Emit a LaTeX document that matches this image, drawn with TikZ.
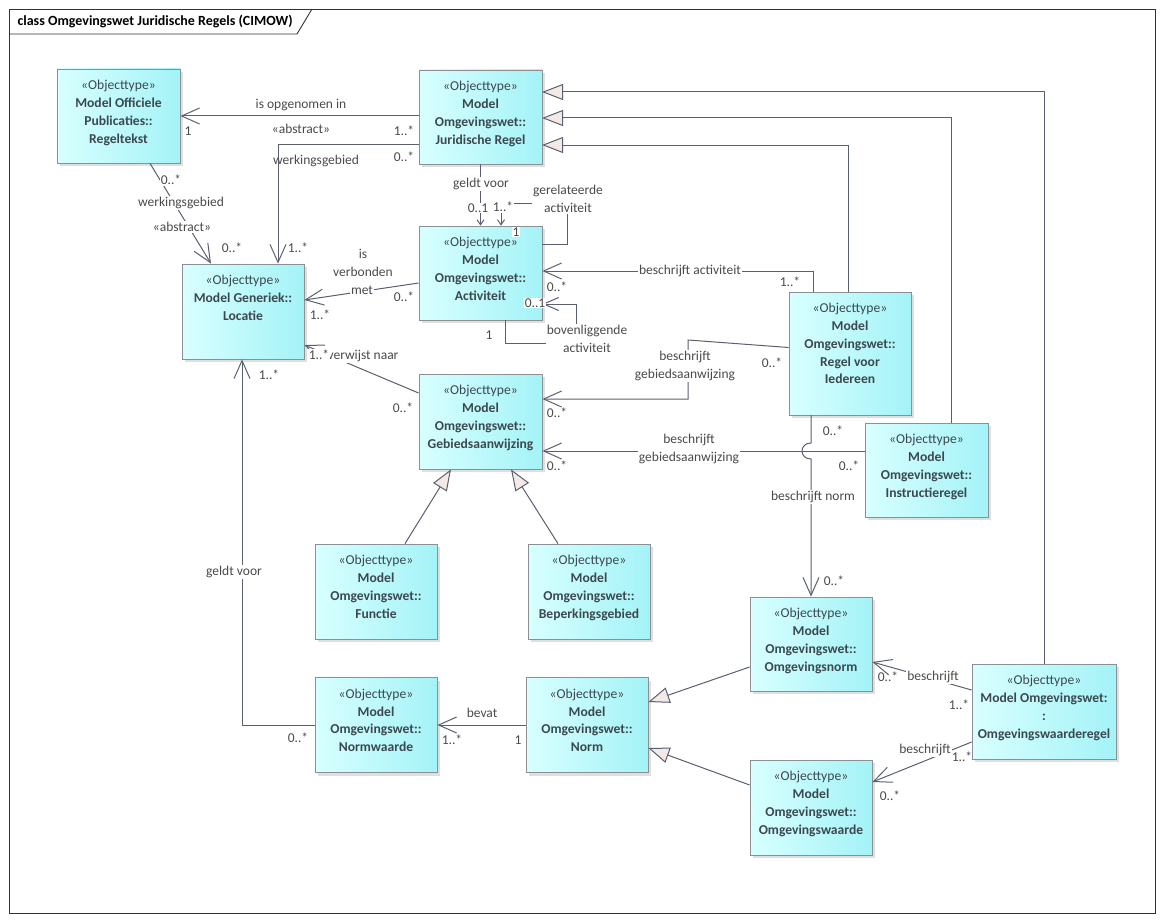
\documentclass[tikz,border=0pt]{standalone}
\usepackage{fontspec}
\setmainfont{Carlito}
\usetikzlibrary{arrows.meta,shadows}
\definecolor{lnc}{HTML}{5A5F70}
\definecolor{txc}{HTML}{3C4850}
\definecolor{lbc}{HTML}{4A4A4A}
\definecolor{boxl}{HTML}{D8FFFF}
\definecolor{boxr}{HTML}{A4F3F7}
\definecolor{boxd}{HTML}{8A9094}
\definecolor{genf}{HTML}{F3EAE8}
\newcommand{\stereo}{«Objecttype»}
\newcommand{\objtype}[5][]{\node[obj,#1,label={[objtxt]north:{\stereo\\#5}}] (#2) at (#3,#4) {};}
\begin{document}
\begin{tikzpicture}[x=1pt,y=-1pt,
	obj/.style={draw=boxd,line width=0.8pt,left color=boxl,right color=boxr,minimum width=122pt,minimum height=95pt,inner sep=0pt,drop shadow={shadow xshift=3pt,shadow yshift=-3pt,opacity=0.25}},
	objtxt/.style={anchor=north,align=center,text=txc,inner sep=0pt,yshift=-11.5pt,font=\fontsize{13.6}{17.8}\selectfont},
	assoc/.style={draw=lnc,line width=1pt,-{Straight Barb[length=18pt,width=16pt]}},
	small/.style={-{Straight Barb[length=5pt,width=7pt]}},
	gen/.style={draw=lnc,line width=1pt,-{Triangle[length=21pt,width=16pt,fill=genf]}},
	lbl/.style={text=lbc,inner sep=1pt,font=\fontsize{13.5}{17.8}\selectfont,align=center},
	lblw/.style={lbl,fill=white}]
	\useasboundingbox (0,0) rectangle (1164,923);
	\draw[line width=0.9pt,draw=black!80] (9,9) rectangle (1155,913);
	\draw[line width=0.9pt,draw=black!80] (9,34) -- (297,34) -- (312,9);
	\node[anchor=west,font=\bfseries\fontsize{14}{16}\selectfont] (title) at (14,21) {class Omgevingswet Juridische Regels (CIMOW)};
	\objtype[minimum width=123pt,minimum height=94pt]{RT}{118.5}{116}{\textbf{Model Officiele}\\\textbf{Publicaties::}\\\textbf{Regeltekst}}
	\objtype[minimum width=123pt,minimum height=94pt]{JR}{480.5}{117}{\textbf{Model}\\\textbf{Omgevingswet::}\\\textbf{Juridische Regel}}
	\objtype{LO}{243}{311.5}{\textbf{Model Generiek::}\\\textbf{Locatie}}
	\objtype[minimum width=123pt,minimum height=94pt]{AC}{480.5}{273}{\textbf{Model}\\\textbf{Omgevingswet::}\\\textbf{Activiteit}}
	\objtype[minimum height=123pt]{RI}{850}{353.5}{\textbf{Model}\\\textbf{Omgevingswet::}\\\textbf{Regel voor}\\\textbf{Iedereen}}
	\objtype[minimum width=123pt]{GA}{480.5}{421.5}{\textbf{Model}\\\textbf{Omgevingswet::}\\\textbf{Gebiedsaanwijzing}}
	\objtype[minimum width=123pt,minimum height=94pt]{IR}{926.5}{470}{\textbf{Model}\\\textbf{Omgevingswet::}\\\textbf{Instructieregel}}
	\objtype{FU}{376}{591.5}{\textbf{Model}\\\textbf{Omgevingswet::}\\\textbf{Functie}}
	\objtype{BG}{589}{591.5}{\textbf{Model}\\\textbf{Omgevingswet::}\\\textbf{Beperkingsgebied}}
	\objtype[minimum height=94pt]{ON}{811}{644}{\textbf{Model}\\\textbf{Omgevingswet::}\\\textbf{Omgevingsnorm}}
	\objtype{NW}{376}{725}{\textbf{Model}\\\textbf{Omgevingswet::}\\\textbf{Normwaarde}}
	\objtype{NO}{587}{725}{\textbf{Model}\\\textbf{Omgevingswet::}\\\textbf{Norm}}
	\objtype[minimum width=144pt]{OR}{1044}{711.5}{\textbf{Model Omgevingswet:}\\\textbf{:}\\\textbf{Omgevingswaarderegel}}
	\objtype{OW}{811}{807.5}{\textbf{Model}\\\textbf{Omgevingswet::}\\\textbf{Omgevingswaarde}}
	\coordinate (j1) at (542,92);
	\coordinate (j2) at (542,118);
	\coordinate (j3) at (542,145);
	\draw[gen] (OR.north) |- (j1);
	\draw[gen] ([xshift=24.5pt]IR.north) |- (j2);
	\draw[gen] ([xshift=-2pt]RI.north) |- (j3);
	\draw[gen] ([xshift=29pt]FU.north) -- ([xshift=-29.5pt]GA.south);
	\draw[gen] ([xshift=-31pt]BG.north) -- ([xshift=30.5pt]GA.south);
	\draw[gen] ([yshift=-23pt]ON.west) -- ([yshift=23pt]NO.east);
	\draw[gen] ([yshift=22.5pt]OW.west) -- ([yshift=-23pt]NO.east);
	\draw[assoc] (JR.west |- RT.east) -- (RT.east);
	\coordinate (wg) at (278,144);
	\draw[assoc] (JR.west |- wg) -| (LO.north -| wg);
	\draw[assoc] ([xshift=31.5pt]RT.south) -- ([xshift=-32pt]LO.north);
	\draw[assoc] ([yshift=-10pt]AC.west) -- ([yshift=11.5pt]LO.east);
	\draw[assoc] ([yshift=28.5pt]GA.west) -- ([yshift=-33.5pt]LO.east);
	\coordinate (gv) at (242,725);
	\draw[assoc] (NW.west) -- (gv) -- (LO.south -| gv);
	\draw[assoc] (NO.west) -- (NW.east);
	\draw[assoc,small] (JR.south) -- (AC.north);
	\coordinate (ga1) at (567,244);
	\coordinate (ga2) at (567,203);
	\coordinate (ga3) at (501,203);
	\draw[assoc,small] (AC.east |- ga1) -- (ga1) -- (ga2) -- (ga3) -- (AC.north -| ga3);
	\coordinate (ba1) at (505,343);
	\coordinate (ba2) at (576,343);
	\coordinate (ba3) at (576,304);
	\draw[assoc,-{Straight Barb[length=15pt,width=13pt]}] (AC.south -| ba1) -- (ba1) -- (ba2) -- (ba3) -- (AC.east |- ba3);
	\coordinate (bact) at (813,271);
	\draw[assoc] (RI.north -| bact) |- (AC.east |- bact);
	\coordinate (bg1) at (688,340);
	\coordinate (bg2) at (688,399);
	\draw[assoc] ([yshift=6pt]RI.west) -- (bg1) -- (bg2) -- (GA.east |- bg2);
	\coordinate (bg3) at ([yshift=19pt]IR.west);
	\draw[assoc] (bg3) -- (GA.east |- bg3);
	\coordinate (bn1) at (811,443);
	\coordinate (bn2) at (811,459);
	\draw[assoc] (RI.south -| ON.north) -- (bn1) .. controls (799,443) and (799,459) .. (bn2) -- (ON.north);
	\draw[assoc] ([yshift=21.5pt]OR.west) -- ([yshift=-18pt]ON.east);
	\draw[assoc] ([yshift=-30.5pt]OR.west) -- ([yshift=25.5pt]OW.east);
	\node[lbl] (t1) at (301,105) {is opgenomen in};
	\node[lbl] (t2) at (301,129) {«abstract»};
	\node[lbl] (t3) at (316,161) {werkingsgebied};
	\node[lbl] (m1) at (188,131) {1};
	\node[lbl] (m2) at (404,131) {1..*};
	\node[lbl] (m3) at (404,157) {0..*};
	\node[lbl] (m4) at (298,248) {1..*};
	\node[lblw] (m5) at (171,180) {0..*};
	\node[lblw] (t4) at (181,203) {werkingsgebied};
	\node[lblw] (t5) at (182,227) {«abstract»};
	\node[lbl] (m6) at (232,248) {0..*};
	\node[lbl] (t6) at (363,263) {is\\verbonden};
	\node[lblw] (t7) at (362,290) {met};
	\node[lbl] (m7) at (404,297) {0..*};
	\node[lbl] (m8) at (320,315) {1..*};
	\node[lblw] (t8) at (363,356) {verwijst naar};
	\node[lblw] (m9) at (319,355) {1..*};
	\node[lbl] (m10) at (403,408) {0..*};
	\node[lbl] (m11) at (269,375) {1..*};
	\node[lblw] (t9) at (234,572) {geldt voor};
	\node[lbl] (m12) at (298,738) {0..*};
	\node[lbl] (t10) at (482,713) {bevat};
	\node[lbl] (m13) at (452,740) {1..*};
	\node[lbl] (m14) at (518,740) {1};
	\node[lblw] (t11) at (481,184) {geldt voor};
	\node[lblw] (m15) at (478,208) {0..1};
	\node[lblw] (m16) at (503,207) {1..*};
	\node[lblw,inner sep=0.5pt] (m17) at (516,232) {1};
	\node[lblw] (t12) at (568,199) {gerelateerde\\activiteit};
	\node[lblw] (t13) at (690,271) {beschrijft activiteit};
	\node[lbl] (m18) at (557,287) {0..*};
	\node[lbl] (m19) at (790,282) {1..*};
	\node[lblw] (m20) at (535,303) {0..1};
	\node[lbl] (m21) at (489,335) {1};
	\node[lblw] (t14) at (587,339) {bovenliggende\\activiteit};
	\node[lblw] (t15) at (685,366) {beschrijft\\gebiedsaanwijzing};
	\node[lbl] (m22) at (772,363) {0..*};
	\node[lbl] (m23) at (557,413) {0..*};
	\node[lblw] (t16) at (689,449) {beschrijft\\gebiedsaanwijzing};
	\node[lbl] (m24) at (557,466) {0..*};
	\node[lbl] (m25) at (849,466) {0..*};
	\node[lbl] (m26) at (833,431) {0..*};
	\node[lblw] (t17) at (813,497) {beschrijft norm};
	\node[lbl] (m27) at (834,581) {0..*};
	\node[lbl] (m28) at (888,677) {0..*};
	\node[lblw] (t18) at (933,677) {beschrijft};
	\node[lbl] (m29) at (959,705) {1..*};
	\node[lbl] (m30) at (962,757) {1..*};
	\node[lblw] (t19) at (925,750) {beschrijft};
	\node[lbl] (m31) at (890,796) {0..*};
\end{tikzpicture}
\end{document}
